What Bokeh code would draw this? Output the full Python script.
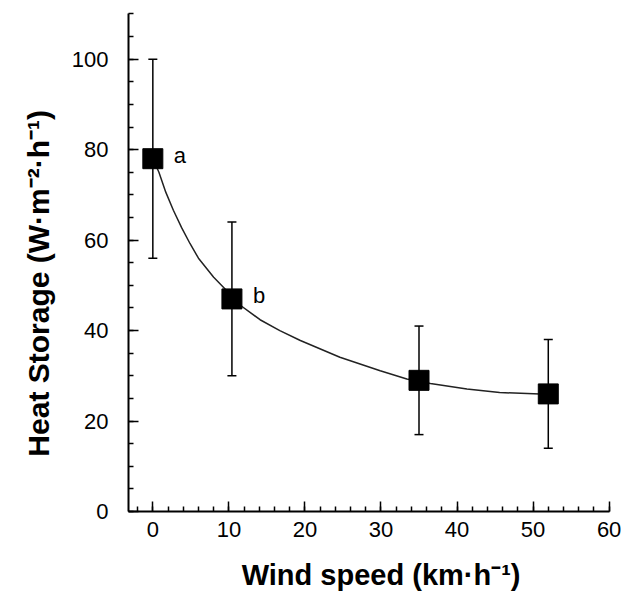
from bokeh.plotting import figure
from bokeh.models import ColumnDataSource, Whisker, TeeHead, SingleIntervalTicker, Range1d
from bokeh.core.properties import value
from bokeh.embed import file_html
from bokeh.resources import INLINE

# data
wind = [0, 10.4, 35, 52]
storage = [78, 47, 29, 26]
upper = [100, 64, 41, 38]
lower = [56, 30, 17, 14]
letters = ["a", "b", "", ""]

# fitted curve
curve_x = [0, 0.8, 1.7, 2.7, 3.8, 4.9, 6.0, 8.0, 9.5, 11.5, 14.1, 16.7, 19.4, 24.6, 29.9, 33.4, 36.5, 41.3, 45.6, 50.9, 52]
curve_y = [78, 75.0, 70.6, 66.6, 62.7, 59.2, 56.0, 51.8, 49.2, 45.6, 42.4, 40.0, 37.8, 34.1, 31.1, 29.3, 28.3, 27.1, 26.3, 26.0, 25.9]

FONT = "Liberation Sans"
NB = "\u00a0"

p = figure(width=633, height=595, output_backend="svg", toolbar_location=None,
           x_range=Range1d(-3.2, 60.05), y_range=Range1d(0, 110.1),
           min_border_left=128, min_border_right=24, min_border_top=13, min_border_bottom=84)
p.outline_line_color = None
p.xgrid.visible = False
p.ygrid.visible = False
p.background_fill_color = "white"
p.border_fill_color = "white"

src = ColumnDataSource(dict(x=wind, y=storage, upper=upper, lower=lower, lab=letters))

p.line(curve_x, curve_y, line_color="#222222", line_width=1.5)

w = Whisker(source=src, base="x", upper="upper", lower="lower",
            line_color="black", line_width=1.5,
            upper_head=TeeHead(size=9, line_color="black", line_width=1.5),
            lower_head=TeeHead(size=9, line_color="black", line_width=1.5))
p.add_layout(w)

p.scatter("x", "y", source=src, marker="square", size=20, fill_color="black", line_color="black")

p.text("x", "y", text="lab", source=src, x_offset=21, y_offset=-3,
       text_font=value(FONT), text_font_size="22px", text_baseline="middle", text_color="black")

for ax in (p.xaxis[0], p.yaxis[0]):
    ax.axis_line_width = 2
    ax.axis_line_color = "black"
    ax.major_tick_in = 10
    ax.major_tick_out = 0
    ax.minor_tick_in = 5
    ax.minor_tick_out = 0
    ax.major_tick_line_width = 1.5
    ax.minor_tick_line_width = 1.5
    ax.major_tick_line_color = "black"
    ax.minor_tick_line_color = "black"
    ax.major_label_text_font = FONT
    ax.major_label_text_font_size = "22px"
    ax.major_label_text_color = "black"
    ax.axis_label_text_font = FONT
    ax.axis_label_text_font_style = "bold"
    ax.axis_label_text_color = "black"

p.xaxis.axis_label_text_font_size = "29px"
p.yaxis.axis_label_text_font_size = "30px"
p.xaxis.ticker = SingleIntervalTicker(interval=10, num_minor_ticks=5)
p.yaxis.ticker = SingleIntervalTicker(interval=20, num_minor_ticks=4)
p.xaxis.major_label_standoff = 10
p.yaxis.major_label_standoff = 20
p.xaxis.axis_label = NB * 3 + "Wind speed (km·h⁻¹)"
p.yaxis.axis_label = "Heat Storage (W·m⁻²·h⁻¹)" + NB * 5
p.xaxis.axis_label_standoff = 19
p.yaxis.axis_label_standoff = 14

open("out.html", "w").write(file_html(p, INLINE))
